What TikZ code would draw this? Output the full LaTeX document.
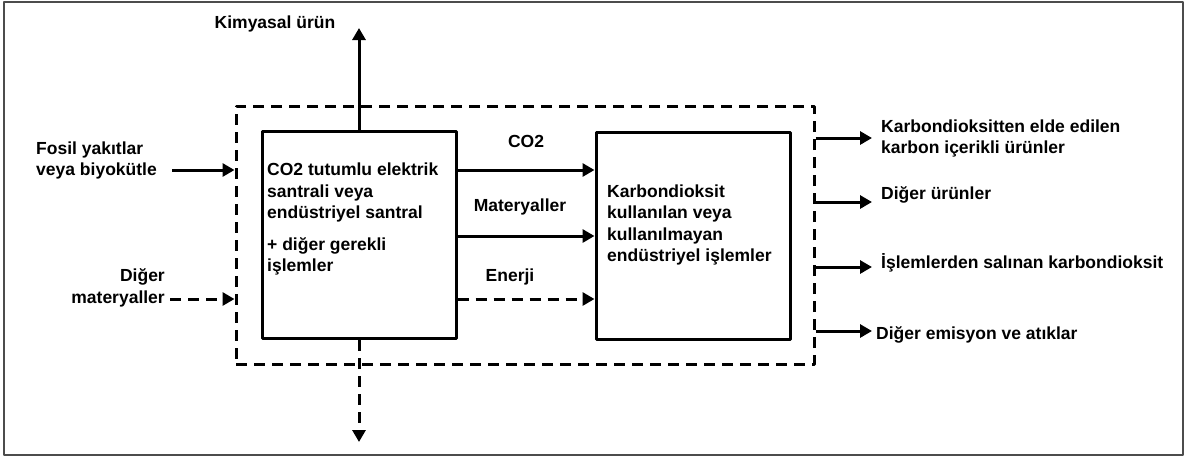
\documentclass[tikz,border=0pt]{standalone}
\usepackage{fontspec}
\setmainfont{Liberation Sans}
\usetikzlibrary{arrows.meta}

\begin{document}
\begin{tikzpicture}[x=1pt, y=-1pt, line join=round,
    every node/.style={font=\fontsize{17.5}{21.5}\selectfont\bfseries, inner sep=0pt},
    block/.style={draw, line width=3pt, minimum width=194pt, minimum height=207pt},
    flow/.style={line width=3pt, -{Triangle[length=12pt,width=13pt]}},
    dashline/.style={line width=3pt, dash pattern=on 11pt off 7pt}]
    \useasboundingbox (0,0) rectangle (1186,459);
    \draw[line width=2pt, black!70] (4,1.5) rectangle (1183,455);

    % system boundary and the two process boxes
    \node[draw, dashline, minimum width=578pt, minimum height=258pt] (sys) at (525,235) {};
    \node[block] (plant) at (359,235) {};
    \node[block] (use) at (693,235.5) {};
    \node[anchor=west, align=left] (planttxt) at (267,219)
        {CO2 tutumlu elektrik\\santrali veya\\endüstriyel santral\\[10pt]+ diğer gerekli\\işlemler};
    \node[anchor=west, align=left] (usetxt) at (607,225)
        {Karbondioksit\\kullanılan veya\\kullanılmayan\\endüstriyel işlemler};

    % inputs
    \coordinate (fuel) at (172,170);
    \coordinate (othmat) at (170,299);
    \node[anchor=west, align=left] (fueltxt) at (36,160.5) {Fosil yakıtlar\\veya biyokütle};
    \node[anchor=east, align=right] (othtxt) at (165,288) {Diğer\\materyaller};
    \draw[flow] (fuel) -- (fuel -| sys.west);
    \draw[flow, dashline] (othmat) -- (othmat -| sys.west);

    % up and down
    \coordinate (chem) at (359,28);
    \coordinate (down) at (359,442);
    \node (chemtxt) at (275,24) {Kimyasal ürün};
    \draw[flow] (plant.north) -- (chem);
    \draw[flow, dashline] (plant.south) -- (down);

    % between the boxes
    \node (co2) at (526,141) {CO2};
    \node (mat) at (520,207) {Materyaller};
    \node (en) at (510,277) {Enerji};
    \foreach \y in {170,236}
        \draw[flow] (plant.east |- 0,\y) -- (use.west |- 0,\y);
    \draw[flow, dashline] (plant.east |- 0,299) -- (use.west |- 0,299);

    % outputs
    \foreach \y/\n in {138/o1, 202/o2, 267/o3, 331/o4}
        \coordinate (\n) at (872,\y);
    \foreach \n in {o1,o2,o3,o4}
        \draw[flow] (sys.east |- \n) -- (\n);
    \node[anchor=west, align=left] (t1) at (881,138.5) {Karbondioksitten elde edilen\\karbon içerikli ürünler};
    \node[anchor=west] (t2) at (881,195) {Diğer ürünler};
    \node[anchor=west] (t3) at (881,263) {İşlemlerden salınan karbondioksit};
    \node[anchor=west] (t4) at (876,335) {Diğer emisyon ve atıklar};
\end{tikzpicture}
\end{document}
